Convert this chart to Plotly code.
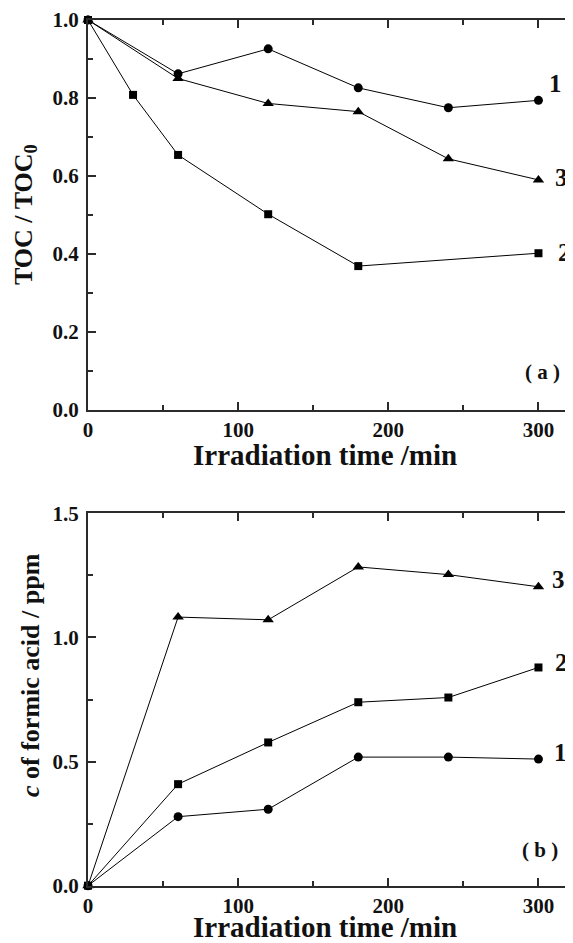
import plotly.graph_objects as go

# ---- data ----
# Panel (a): TOC / TOC0
t1_a = [0, 60, 120, 180, 240, 300]
toc_1 = [1.0, 0.862, 0.926, 0.826, 0.775, 0.794]
t2_a = [0, 30, 60, 120, 180, 300]
toc_2 = [1.0, 0.808, 0.654, 0.502, 0.369, 0.402]
t3_a = [0, 60, 120, 180, 240, 300]
toc_3 = [1.0, 0.850, 0.786, 0.765, 0.644, 0.590]

# Panel (b): formic acid concentration / ppm
t_b = [0, 60, 120, 180, 240, 300]
fa_1 = [0.0, 0.278, 0.308, 0.518, 0.518, 0.510]
fa_2 = [0.0, 0.409, 0.577, 0.739, 0.758, 0.879]
fa_3 = [0.0, 1.082, 1.071, 1.284, 1.253, 1.204]

x_ticks = [0, 100, 200, 300]
ya_ticks = [0.0, 0.2, 0.4, 0.6, 0.8, 1.0]
yb_ticks = [0.0, 0.5, 1.0, 1.5]

# page body has an 8px margin, so the figure is drawn offset by (8, 8)
OFF = 8
W, H = 573 - OFF, 943 - OFF
FONT = "Liberation Serif"
AX = "#2b2b2b"


def px(x):
    return (x - OFF) / W


def py(y):
    return 1 - (y - OFF) / H


fig = go.Figure()


def add(x, y, sym, size, xa, ya):
    fig.add_trace(go.Scatter(
        x=x, y=y, mode="lines+markers", xaxis=xa, yaxis=ya,
        line=dict(color="black", width=1),
        marker=dict(symbol=sym, size=size, color="black"),
        showlegend=False, cliponaxis=False))


add(t1_a, toc_1, "circle", 9, "x", "y")
add(t3_a, toc_3, "triangle-up", 10, "x", "y")
add(t2_a, toc_2, "square", 8, "x", "y")
add(t_b, fa_1, "circle", 9, "x2", "y2")
add(t_b, fa_2, "square", 8, "x2", "y2")
add(t_b, fa_3, "triangle-up", 10, "x2", "y2")

xdom = [px(88), 1.0]
ydom_a = [py(410), py(20)]
ydom_b = [py(885.7), py(513.3)]

tickfont = dict(family=FONT, size=21, color="#111", weight="bold")


def xaxis(anchor):
    return dict(domain=xdom, anchor=anchor, range=[0, 323], automargin=False,
                tickvals=x_ticks, ticks="inside", ticklen=8, tickwidth=1.5,
                tickcolor=AX, showline=True, linecolor=AX, linewidth=2,
                mirror="ticks", showgrid=False, zeroline=False,
                tickfont=tickfont,
                minor=dict(tickvals=[50, 150, 250], ticks="inside", ticklen=5,
                           tickwidth=1.5, tickcolor=AX, showgrid=False))


def yaxis(anchor, dom, rng, vals, minor_vals, fmt):
    return dict(domain=dom, anchor=anchor, range=rng, tickvals=vals,
                automargin=False, ticklabelstandoff=3,
                tickformat=fmt, ticks="inside", ticklen=8, tickwidth=1.5,
                tickcolor=AX, showline=True, linecolor=AX, linewidth=2,
                showgrid=False, zeroline=False, tickfont=tickfont,
                minor=dict(tickvals=minor_vals, ticks="inside", ticklen=5,
                           tickwidth=1.5, tickcolor=AX, showgrid=False))


fig.update_layout(
    width=W, height=H,
    margin=dict(l=0, r=0, t=0, b=0, autoexpand=False),
    paper_bgcolor="white", plot_bgcolor="white",
    font=dict(family=FONT),
    xaxis=xaxis("y"),
    yaxis=yaxis("x", ydom_a, [0, 1.0], ya_ticks, [0.1, 0.3, 0.5, 0.7, 0.9], ".1f"),
    xaxis2=xaxis("y2"),
    yaxis2=yaxis("x2", ydom_b, [0, 1.5], yb_ticks, [0.25, 0.75, 1.25], ".1f"),
)

title_font = dict(family=FONT, size=29, color="#111", weight="bold")
ytitle_font = dict(family=FONT, size=26, color="#111", weight="bold")
lab_font = dict(family=FONT, size=25, color="#111", weight="bold")
tag_font = dict(family=FONT, size=21, color="#111", weight="bold")

ann = []
# axis titles
ann.append(dict(text="Irradiation time /min", xref="paper", yref="paper",
                x=px(325), y=py(455), showarrow=False, font=title_font,
                xanchor="center", yanchor="middle"))
ann.append(dict(text="Irradiation time /min", xref="paper", yref="paper",
                x=px(325), y=py(927), showarrow=False, font=title_font,
                xanchor="center", yanchor="middle"))
ann.append(dict(text="TOC / TOC<sub>0</sub>", xref="paper", yref="paper",
                x=px(25), y=py(215), showarrow=False, font=ytitle_font,
                textangle=-90, xanchor="center", yanchor="middle"))
ann.append(dict(text="<i>c</i> of formic acid / ppm", xref="paper", yref="paper",
                x=px(30), y=py(675), showarrow=False, font=ytitle_font,
                textangle=-90, xanchor="center", yanchor="middle"))

# curve labels
for txt, x, y, xr, yr in [("1", 306, 0.838, "x", "y"), ("3", 310, 0.597, "x", "y"),
                          ("2", 312, 0.405, "x", "y"),
                          ("3", 307.5, 1.233, "x2", "y2"), ("2", 310, 0.898, "x2", "y2"),
                          ("1", 309, 0.535, "x2", "y2")]:
    ann.append(dict(text=txt, x=x, y=y, xref=xr, yref=yr, showarrow=False,
                    font=lab_font, xanchor="left", yanchor="middle"))

ann.append(dict(text="( a )", x=303, y=0.097, xref="x", yref="y", showarrow=False,
                font=tag_font, xanchor="center", yanchor="middle"))
ann.append(dict(text="( b )", x=301, y=0.144, xref="x2", yref="y2", showarrow=False,
                font=tag_font, xanchor="center", yanchor="middle"))

fig.update_layout(annotations=ann)

fig.write_html("out.html")
